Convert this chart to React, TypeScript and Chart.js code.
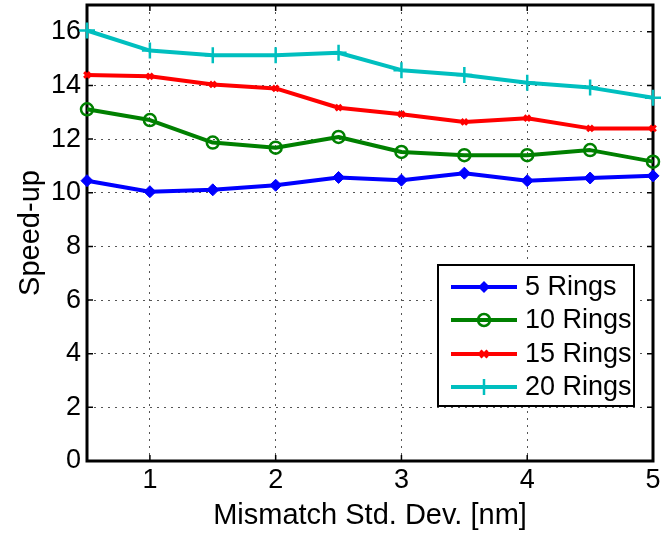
import React, { useEffect, useRef } from "react";
import { Chart, registerables } from "chart.js";

Chart.register(...registerables);

const xValues = [0.5, 1, 1.5, 2, 2.5, 3, 3.5, 4, 4.5, 5];
const rings5 = [10.45, 10.04, 10.11, 10.28, 10.57, 10.47, 10.73, 10.45, 10.55, 10.63];
const rings10 = [13.11, 12.71, 11.87, 11.68, 12.08, 11.52, 11.4, 11.4, 11.59, 11.16];
const rings15 = [14.39, 14.34, 14.04, 13.89, 13.17, 12.93, 12.64, 12.78, 12.4, 12.4];
const rings20 = [16.05, 15.3, 15.13, 15.13, 15.22, 14.57, 14.39, 14.1, 13.92, 13.54];
const seriesLabels = ["5 Rings", "10 Rings", "15 Rings", "20 Rings"];
const xTicks = [1, 2, 3, 4, 5];
const yTicks = [0, 2, 4, 6, 8, 10, 12, 14, 16];
const xTitle = "Mismatch Std. Dev. [nm]";
const yTitle = "Speed-up";

const FONT = "'Liberation Sans', Arial, sans-serif";
const colors = ["#0000ff", "#008000", "#ff0000", "#00bfbf"];
const markers = ["rectRot", "circle", "crossRot", "cross"];

function drawMarker(ctx: CanvasRenderingContext2D, kind: string, x: number, y: number, color: string) {
  ctx.save();
  ctx.strokeStyle = color;
  ctx.fillStyle = color;
  ctx.beginPath();
  if (kind === "rectRot") {
    const r = 6;
    ctx.moveTo(x, y - r);
    ctx.lineTo(x + r, y);
    ctx.lineTo(x, y + r);
    ctx.lineTo(x - r, y);
    ctx.closePath();
    ctx.fill();
  } else if (kind === "circle") {
    ctx.lineWidth = 2.5;
    ctx.arc(x, y, 6, 0, Math.PI * 2);
    ctx.stroke();
  } else if (kind === "crossRot") {
    ctx.lineWidth = 3;
    const r = 3.5;
    ctx.moveTo(x - r, y - r);
    ctx.lineTo(x + r, y + r);
    ctx.moveTo(x + r, y - r);
    ctx.lineTo(x - r, y + r);
    ctx.stroke();
  } else {
    ctx.lineWidth = 2.5;
    const r = 8;
    ctx.moveTo(x, y - r);
    ctx.lineTo(x, y + r);
    ctx.moveTo(x - r, y);
    ctx.lineTo(x + r, y);
    ctx.stroke();
  }
  ctx.restore();
}

const framePlugin = {
  id: "frame",
  beforeDatasetsDraw(chart: any) {
    const { ctx, chartArea, scales } = chart;
    const { left, right, top, bottom } = chartArea;
    const x = scales.x;
    const y = scales.y;
    ctx.save();
    ctx.strokeStyle = "#000";
    ctx.lineWidth = 1.5;
    const tl = 6;
    ctx.beginPath();
    x.ticks.forEach((t: any) => {
      const px = x.getPixelForValue(t.value);
      ctx.moveTo(px, bottom);
      ctx.lineTo(px, bottom - tl);
      ctx.moveTo(px, top);
      ctx.lineTo(px, top + tl);
    });
    y.ticks.forEach((t: any) => {
      const py = y.getPixelForValue(t.value);
      ctx.moveTo(left, py);
      ctx.lineTo(left + tl, py);
      ctx.moveTo(right, py);
      ctx.lineTo(right - tl, py);
    });
    ctx.stroke();
    ctx.lineWidth = 3;
    ctx.strokeRect(left, top, right - left, bottom - top);
    ctx.restore();
  },
};

const legendPlugin = {
  id: "boxLegend",
  afterDatasetsDraw(chart: any) {
    const { ctx } = chart;
    const bx = 438, by = 265, bw = 196, bh = 141;
    ctx.save();
    ctx.fillStyle = "#fff";
    ctx.fillRect(bx, by, bw, bh);
    ctx.strokeStyle = "#000";
    ctx.lineWidth = 2;
    ctx.strokeRect(bx, by, bw, bh);
    const rowY = [287, 320, 354, 387];
    chart.data.datasets.forEach((ds: any, i: number) => {
      const yy = rowY[i];
      ctx.strokeStyle = ds.borderColor;
      ctx.lineWidth = 4;
      ctx.beginPath();
      ctx.moveTo(451, yy);
      ctx.lineTo(517, yy);
      ctx.stroke();
      drawMarker(ctx, markers[i], 484, yy, ds.borderColor);
      ctx.fillStyle = "#000";
      ctx.font = `27px ${FONT}`;
      ctx.textBaseline = "middle";
      ctx.textAlign = "left";
      ctx.fillText(ds.label, 525, yy + 1);
    });
    ctx.restore();
  },
};

export default function App() {
  const ref = useRef<HTMLCanvasElement | null>(null);
  useEffect(() => {
    document.body.style.margin = "0";
    const canvas = ref.current;
    if (!canvas) return;
    const series = [rings5, rings10, rings15, rings20];
    const chart = new Chart(canvas, {
      type: "line",
      data: {
        datasets: series.map((vals, i) => ({
          label: seriesLabels[i],
          data: xValues.map((xv, j) => ({ x: xv, y: vals[j] })),
          borderColor: colors[i],
          backgroundColor: colors[i],
          borderWidth: 4,
          borderJoinStyle: "round" as const,
          pointStyle: markers[i] as any,
          pointRadius: i === 0 ? 6 : i === 1 ? 6 : i === 2 ? 4 : 8,
          pointBorderWidth: i === 0 ? 1 : i === 2 ? 3 : 2.5,
          pointBackgroundColor: i === 1 ? "rgba(0,0,0,0)" : colors[i],
          pointBorderColor: colors[i],
          clip: false as any,
          tension: 0,
        })),
      },
      options: {
        animation: false,
        responsive: false,
        maintainAspectRatio: false,
        layout: { autoPadding: false, padding: { top: 5, right: 12, left: 0, bottom: 0 } },
        plugins: {
          legend: { display: false },
          tooltip: { enabled: false },
        },
        scales: {
          x: {
            type: "linear",
            min: 0.5,
            max: 5,
            afterBuildTicks: (scale: any) => {
              scale.ticks = xTicks.map((v) => ({ value: v }));
            },
            afterFit: (scale: any) => {
              scale.height = 72;
              scale.paddingLeft = 0;
            },
            grid: { color: "#555", lineWidth: 1, drawTicks: false },
            border: { display: false, dash: [2, 5] },
            ticks: { color: "#000", font: { size: 27, family: FONT }, padding: 3, maxRotation: 0 },
            title: {
              display: true,
              text: xTitle,
              color: "#000",
              font: { size: 29, family: FONT },
              padding: { top: 0, bottom: 0 },
            },
          },
          y: {
            type: "linear",
            min: 0,
            max: 17,
            afterBuildTicks: (scale: any) => {
              scale.ticks = yTicks.map((v) => ({ value: v }));
            },
            ticks: { color: "#000", font: { size: 27, family: FONT }, padding: 6 },
            afterFit: (scale: any) => {
              scale.width = 87;
              scale.paddingTop = 0;
              scale.paddingBottom = 0;
            },
            grid: { color: "#555", lineWidth: 1, drawTicks: false },
            border: { display: false, dash: [2, 5] },
            title: {
              display: true,
              text: yTitle,
              color: "#000",
              font: { size: 29, family: FONT },
              padding: { top: 14, bottom: 0 },
            },
          },
        },
      },
      plugins: [framePlugin, legendPlugin],
    });
    return () => chart.destroy();
  }, []);
  return (
    <div style={{ width: 665, height: 533 }}>
      <canvas ref={ref} width={665} height={533} />
    </div>
  );
}
